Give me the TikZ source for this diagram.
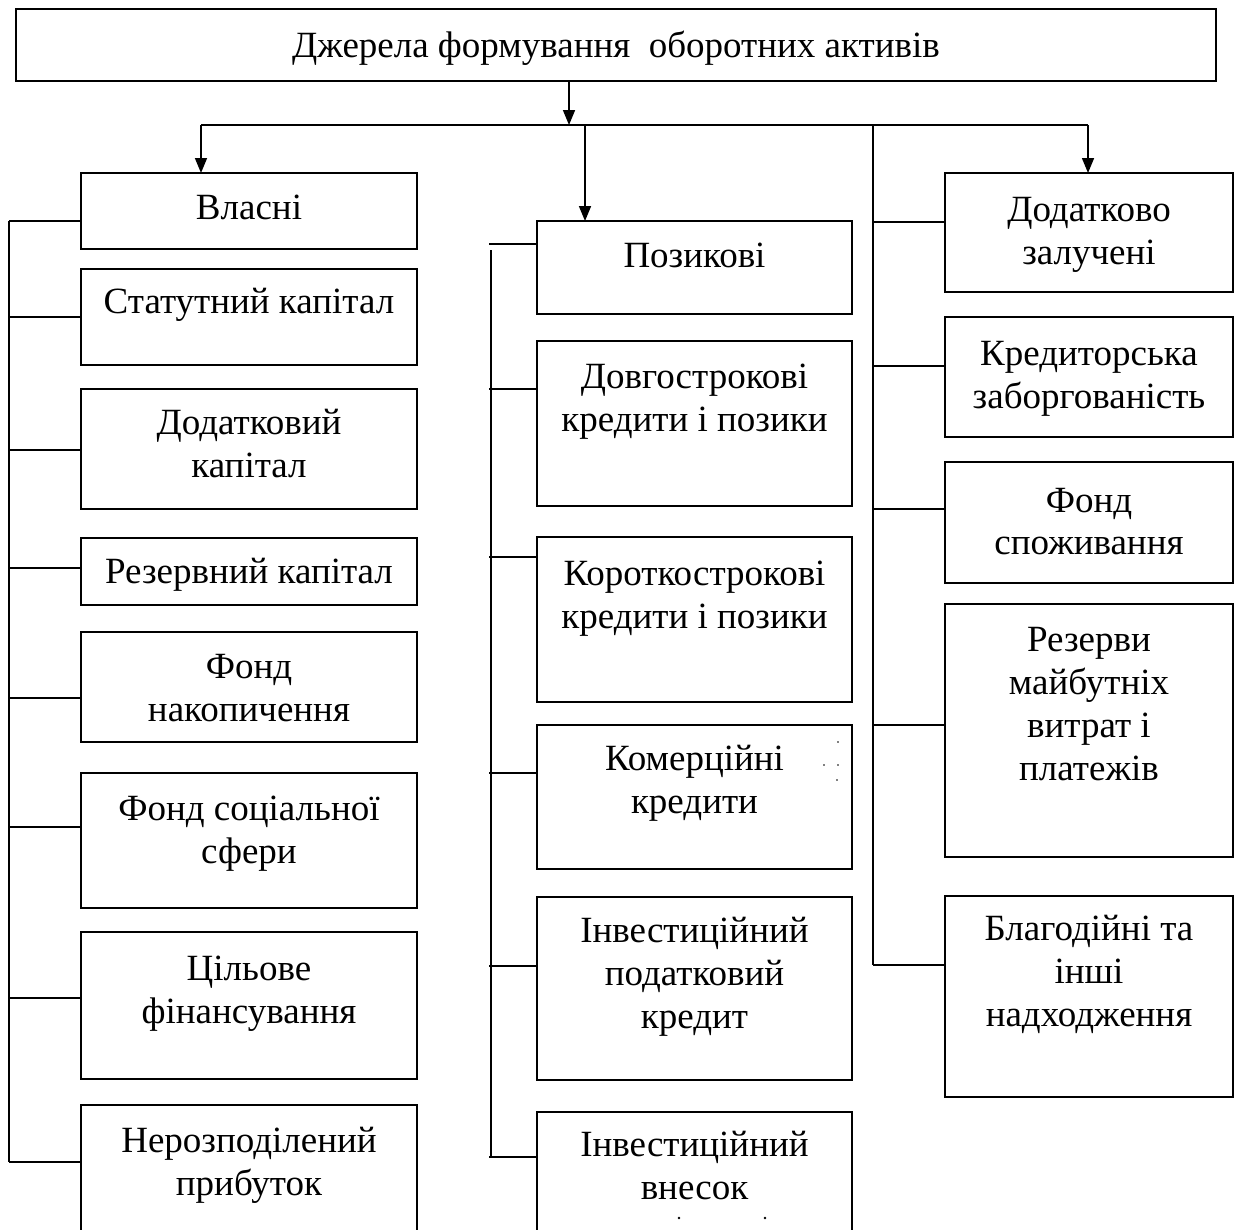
\documentclass[tikz,border=0pt]{standalone}
\usepackage{fontspec}
\setmainfont{Liberation Serif}
\usetikzlibrary{arrows.meta}
\begin{document}
\begin{tikzpicture}[x=1pt,y=-1pt,
  box/.style={draw, line width=1.8pt, rectangle, inner sep=0pt, outer sep=0pt, anchor=north west},
  txt/.style={font=\fontsize{37}{43}\selectfont, anchor=base, inner sep=0pt},
  ln/.style={line width=1.6pt},
  arr/.style={ln, -{Triangle[length=15pt,width=12pt]}},
  speck/.style={fill=black, draw=none}]
\useasboundingbox (0,0) rectangle (1238,1229);
\clip (0,0) rectangle (1238,1229);

% ---------- top ----------
\node[box, minimum width=1200pt, minimum height=72pt] (top) at (16,9) {};
\node[txt] (ttop) at (616,57) {Джерела формування~ оборотних активів};

% ---------- left column ----------
\node[box, minimum width=336pt, minimum height=76pt]  (l1) at (81,173) {};
\node[box, minimum width=336pt, minimum height=96pt]  (l2) at (81,269) {};
\node[box, minimum width=336pt, minimum height=120pt] (l3) at (81,389) {};
\node[box, minimum width=336pt, minimum height=67pt]  (l4) at (81,538) {};
\node[box, minimum width=336pt, minimum height=110pt] (l5) at (81,632) {};
\node[box, minimum width=336pt, minimum height=135pt] (l6) at (81,773) {};
\node[box, minimum width=336pt, minimum height=147pt] (l7) at (81,932) {};
\node[box, minimum width=336pt, minimum height=160pt] (l8) at (81,1105) {};

\node[txt] (l1a) at (249,219) {Власні};
\node[txt] (l2a) at (249,313) {Статутний капітал};
\node[txt] (l3a) at (249,434) {Додатковий};
\node[txt] (l3b) at (249,477) {капітал};
\node[txt] (l4a) at (249,583) {Резервний капітал};
\node[txt] (l5a) at (249,678) {Фонд};
\node[txt] (l5b) at (249,721) {накопичення};
\node[txt] (l6a) at (249,820) {Фонд соціальної};
\node[txt] (l6b) at (249,863) {сфери};
\node[txt] (l7a) at (249,980) {Цільове};
\node[txt] (l7b) at (249,1023) {фінансування};
\node[txt] (l8a) at (249,1152) {Нерозподілений};
\node[txt] (l8b) at (249,1195) {прибуток};

% ---------- middle column ----------
\node[box, minimum width=315pt, minimum height=93pt]  (m1) at (537,221) {};
\node[box, minimum width=315pt, minimum height=165pt] (m2) at (537,341) {};
\node[box, minimum width=315pt, minimum height=165pt] (m3) at (537,537) {};
\node[box, minimum width=315pt, minimum height=144pt] (m4) at (537,725) {};
\node[box, minimum width=315pt, minimum height=183pt] (m5) at (537,897) {};
\node[box, minimum width=315pt, minimum height=160pt] (m6) at (537,1112) {};

\node[txt] (m1a) at (694.5,267) {Позикові};
\node[txt] (m2a) at (694.5,388) {Довгострокові};
\node[txt] (m2b) at (694.5,431) {кредити і позики};
\node[txt] (m3a) at (694.5,585) {Короткострокові};
\node[txt] (m3b) at (694.5,628) {кредити і позики};
\node[txt] (m4a) at (694.5,770) {Комерційні};
\node[txt] (m4b) at (694.5,813) {кредити};
\node[txt] (m5a) at (694.5,942) {Інвестиційний};
\node[txt] (m5b) at (694.5,985) {податковий};
\node[txt] (m5c) at (694.5,1028) {кредит};
\node[txt] (m6a) at (694.5,1156) {Інвестиційний};
\node[txt] (m6b) at (694.5,1199) {внесок};

% ---------- right column ----------
\node[box, minimum width=288pt, minimum height=119pt] (r1) at (945,173) {};
\node[box, minimum width=288pt, minimum height=120pt] (r2) at (945,317) {};
\node[box, minimum width=288pt, minimum height=121pt] (r3) at (945,462) {};
\node[box, minimum width=288pt, minimum height=253pt] (r4) at (945,604) {};
\node[box, minimum width=288pt, minimum height=201pt] (r5) at (945,896) {};

\node[txt] (r1a) at (1089,221) {Додатково};
\node[txt] (r1b) at (1089,264) {залучені};
\node[txt] (r2a) at (1089,365) {Кредиторська};
\node[txt] (r2b) at (1089,408) {заборгованість};
\node[txt] (r3a) at (1089,512) {Фонд};
\node[txt] (r3b) at (1089,554) {споживання};
\node[txt] (r4a) at (1089,651) {Резерви};
\node[txt] (r4b) at (1089,694) {майбутніх};
\node[txt] (r4c) at (1089,737) {витрат і};
\node[txt] (r4d) at (1089,780) {платежів};
\node[txt] (r5a) at (1089,940) {Благодійні та};
\node[txt] (r5b) at (1089,983) {інші};
\node[txt] (r5c) at (1089,1026) {надходження};

% ---------- distribution lines ----------
\coordinate (hub) at (569,125);
\coordinate (hL) at (201,125);
\coordinate (hM) at (585,125);
\coordinate (hR) at (1088,125);
\coordinate (hV) at (873,125);
\draw[arr] (top.south -| hub) -- (hub);
\draw[ln] (hL) -- (hR);
\draw[arr] (hL) -- (hL |- l1.north);
\draw[arr] (hM) -- (hM |- m1.north);
\draw[arr] (hR) -- (hR |- r1.north);

% left bus
\coordinate (L1) at (9,221);
\coordinate (L2) at (9,317);
\coordinate (L3) at (9,450);
\coordinate (L4) at (9,568);
\coordinate (L5) at (9,698);
\coordinate (L6) at (9,827);
\coordinate (L7) at (9,998);
\coordinate (L8) at (9,1162);
\draw[ln] (L1) -- (L8);
\foreach \i in {1,...,8} \draw[ln] (L\i) -- (L\i -| l\i.west);

% middle bus
\coordinate (Mtop) at (491,250);
\coordinate (M1) at (489,244);
\coordinate (M2) at (489,389);
\coordinate (M3) at (489,557);
\coordinate (M4) at (489,773);
\coordinate (M5) at (489,966);
\coordinate (M6) at (489,1157);
\draw[ln] (Mtop) -- (Mtop |- M6);
\foreach \i in {1,...,6} \draw[ln] (M\i) -- (M\i -| m\i.west);

% right bus
\coordinate (R1) at (873,222);
\coordinate (R2) at (873,366);
\coordinate (R3) at (873,509);
\coordinate (R4) at (873,725);
\coordinate (R5) at (873,965);
\draw[ln] (hV) -- (R5);
\foreach \i in {1,...,5} \draw[ln] (R\i) -- (R\i -| r\i.west);

% faint specks
\fill[speck] (838,742) circle (0.9);
\fill[speck] (838,765) circle (0.9);
\fill[speck] (824,765) circle (0.9);
\fill[speck] (837,780) circle (0.9);
\fill[speck] (679,1218) circle (1.3);
\fill[speck] (765,1218) circle (1.3);
\end{tikzpicture}
\end{document}
